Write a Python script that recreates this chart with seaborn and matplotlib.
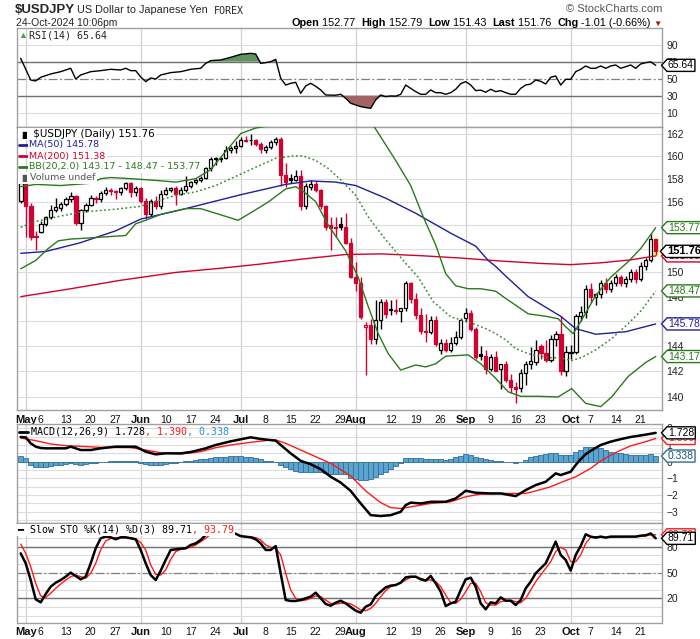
import matplotlib
matplotlib.use("Agg")
import matplotlib.pyplot as plt
import numpy as np
import pandas as pd
import seaborn as sns
from matplotlib.path import Path
from matplotlib.lines import Line2D
from matplotlib.ticker import NullLocator, NullFormatter
from matplotlib.offsetbox import TextArea, HPacker, AnnotationBbox

sns.set_style("white")
plt.rcParams["font.family"] = ["Liberation Sans", "DejaVu Sans"]

# ---------------- data ----------------
# forex trades every weekday, so the bars are the business days of the window
dates = pd.bdate_range("2024-04-30", "2024-10-24")

opens = [156.1, 157.6, 155.6, 153.1, 153.4, 154.1, 154.65, 155.3, 155.45, 155.8,
         156.2, 156.5, 154.2, 155.3, 155.7, 156.35, 156.2, 156.75, 157.0, 156.9,
         156.8, 157.2, 157.6, 156.8, 157.2, 156.1, 154.9, 156.1, 155.6, 156.7,
         157.05, 157.15, 156.7, 157.05, 157.4, 157.7, 157.85, 158.05, 158.95, 159.85,
         159.75, 159.85, 160.55, 160.7, 160.85, 161.45, 161.45, 161.4, 161.1, 160.5,
         160.8, 161.2, 161.5, 158.3, 158.1, 157.9, 158.25, 155.6, 157.3, 157.5,
         157.0, 155.6, 154.0, 153.8, 154.1, 153.8, 152.5, 149.6, 149.1, 145.5,
         145.7, 144.6, 146.1, 147.6, 147.0, 146.9, 146.8, 147.05, 149.1, 147.8,
         146.5, 145.25, 145.1, 146.1, 143.7, 144.25, 143.7, 144.25, 144.75, 146.3,
         146.7, 145.35, 143.4, 143.25, 142.2, 143.15, 142.15, 142.55, 141.35, 140.75,
         140.7, 141.9, 142.55, 142.7, 144.0, 143.45, 142.9, 144.6, 144.95, 142.05,
         143.45, 143.55, 146.4, 146.75, 148.6, 148.0, 148.2, 149.1, 148.6, 149.1,
         149.65, 149.1, 149.45, 150.0, 149.45, 150.55, 151.0, 152.77]
highs = [157.9, 157.9, 155.9, 153.5, 154.3, 154.8, 155.7, 156.3, 155.95, 156.4,
         156.8, 156.6, 155.4, 155.9, 156.6, 156.5, 156.9, 157.3, 157.2, 157.0,
         157.3, 157.7, 157.7, 157.4, 157.3, 156.3, 156.2, 156.5, 157.0, 157.3,
         157.3, 157.4, 157.3, 158.2, 157.8, 158.0, 158.2, 159.0, 159.9, 159.95,
         159.95, 160.9, 160.9, 161.3, 161.7, 161.75, 161.95, 161.5, 161.2, 161.0,
         161.4, 161.7, 161.7, 159.4, 158.4, 158.8, 158.8, 157.6, 157.9, 157.8,
         157.1, 155.7, 154.7, 154.7, 154.7, 155.0, 152.9, 150.9, 149.6, 145.9,
         146.2, 147.7, 147.8, 147.8, 147.7, 147.8, 147.1, 149.3, 149.2, 148.3,
         147.1, 146.6, 146.4, 146.4, 144.6, 144.6, 144.7, 145.2, 146.3, 147.1,
         146.9, 145.5, 144.0, 143.7, 143.4, 143.6, 142.6, 142.8, 141.8, 141.2,
         142.2, 142.8, 143.9, 144.5, 144.2, 144.5, 144.9, 145.2, 146.4, 144.0,
         144.1, 146.6, 147.2, 149.0, 149.1, 148.3, 149.4, 149.5, 149.4, 149.9,
         149.8, 149.7, 150.3, 150.3, 150.9, 151.2, 153.2, 152.79]
lows = [155.9, 153.0, 152.7, 151.85, 153.3, 153.9, 154.5, 155.1, 155.2, 155.6,
        156.0, 154.0, 153.6, 155.1, 155.6, 155.9, 156.0, 156.6, 156.6, 156.2,
        156.6, 157.0, 156.4, 156.5, 155.9, 154.5, 154.8, 155.4, 155.4, 156.6,
        156.8, 155.7, 156.6, 156.8, 157.2, 157.5, 157.7, 158.0, 158.7, 159.2,
        159.5, 159.7, 160.3, 160.3, 160.8, 161.2, 161.0, 160.9, 160.3, 160.3,
        160.6, 161.0, 157.4, 157.3, 157.6, 157.8, 155.3, 155.4, 157.0, 156.8,
        155.4, 153.6, 151.9, 153.0, 153.6, 152.4, 149.5, 148.5, 146.2, 141.7,
        144.2, 144.2, 145.4, 146.3, 146.5, 146.6, 145.9, 146.8, 147.5, 146.2,
        145.0, 144.3, 145.0, 144.0, 143.4, 143.5, 143.5, 144.1, 144.6, 145.9,
        145.2, 143.0, 142.9, 141.8, 142.0, 142.0, 140.6, 141.2, 140.3, 139.55,
        140.4, 140.9, 142.2, 142.5, 143.0, 142.7, 142.7, 144.0, 141.7, 141.65,
        143.0, 143.4, 146.0, 146.3, 147.5, 147.3, 147.9, 148.3, 148.4, 148.9,
        148.9, 148.8, 149.2, 149.1, 149.3, 150.2, 150.9, 151.43]
closes = [157.6, 155.6, 153.0, 152.95, 154.1, 154.65, 155.3, 155.5, 155.8, 156.2,
          156.5, 154.2, 155.3, 155.7, 156.3, 156.2, 156.75, 157.0, 156.9, 156.8,
          157.2, 157.6, 156.8, 157.2, 156.1, 154.9, 156.1, 155.6, 156.7, 157.05,
          157.15, 156.7, 157.05, 157.4, 157.7, 157.85, 158.05, 158.95, 159.7, 159.75,
          159.85, 160.55, 160.7, 160.85, 161.4, 161.35, 161.38, 161.1, 160.65, 160.8,
          161.2, 161.5, 158.3, 157.75, 157.9, 158.25, 155.6, 157.4, 157.5, 157.0,
          155.6, 153.8, 153.75, 153.7, 153.8, 152.5, 149.6, 149.1, 146.35, 145.7,
          144.6, 146.1, 147.6, 146.6, 146.9, 146.8, 147.05, 149.1, 147.8, 146.5,
          145.2, 145.1, 146.1, 144.2, 144.25, 143.7, 144.25, 144.75, 146.1, 146.7,
          145.35, 143.15, 143.25, 142.2, 143.15, 142.05, 142.55, 141.35, 140.75, 140.65,
          141.9, 142.55, 142.85, 143.7, 143.45, 142.9, 144.6, 144.95, 142.05, 143.5,
          143.55, 146.4, 146.75, 148.6, 148.0, 148.2, 149.1, 148.6, 149.1, 149.6,
          149.1, 149.45, 150.0, 149.45, 150.55, 151.0, 152.77, 151.76]

ma50_at = [0, 5, 12, 19, 24, 33, 44, 53, 58, 63, 67, 73, 79, 86, 91, 93.5, 95, 97,
           101.5, 108, 111, 115, 121, 127]
ma50 = [151.6, 151.75, 152.5, 153.5, 154.5, 155.4, 156.6, 157.5, 157.8, 157.7, 157.4,
        156.3, 155.0, 153.3, 152.2, 151.0, 150.5, 149.7, 148.0, 146.4, 145.4, 144.95,
        145.15, 145.78]
ma200_at = [0, 10, 20, 31, 40, 48, 56, 65, 72, 80, 88, 96, 104, 110, 116, 122, 127]
ma200 = [148.0, 148.65, 149.35, 150.0, 150.35, 150.7, 151.1, 151.5, 151.55, 151.4,
         151.2, 150.95, 150.75, 150.65, 150.8, 151.05, 151.38]
bb_up_at = [0, 3, 8, 14, 16, 18, 22, 27, 31, 35, 38, 41, 44, 47, 51, 55, 59, 63, 67,
            70, 71, 73, 75, 78, 80.5, 83, 85, 87, 89.5, 92, 95, 97, 99, 101.5, 105,
            107.5, 109, 110.5, 112.2, 115, 118, 121.5, 124, 127]
bb_up = [157.3, 157.5, 157.4, 157.6, 158.0, 158.1, 158.0, 157.85, 157.7, 158.0, 158.8,
         160.4, 162.0, 162.5, 162.8, 162.7, 163.5, 165.0, 165.5, 163.0, 162.4, 161.0,
         159.6, 157.4, 154.7, 152.3, 149.9, 148.9, 148.65, 148.65, 148.45, 147.85,
         147.3, 146.6, 146.4, 146.2, 145.55, 145.0, 146.1, 148.1, 149.6, 150.9, 152.0,
         153.77]
bb_mid_at = [0, 3, 5.5, 12, 19, 24, 27.5, 31, 35, 39, 43, 47, 51, 54.5, 56.5, 59,
             61.5, 64, 67, 69.5, 72.5, 76.5, 79.5, 82.5, 86, 89.5, 93, 95, 97, 99,
             101.5, 105, 108, 110.2, 112.2, 115, 118.2, 121.5, 124.2, 127]
bb_mid = [153.8, 154.3, 154.55, 155.1, 155.35, 155.6, 156.1, 156.55, 156.85, 157.4,
          158.2, 159.0, 159.8, 160.0, 160.0, 159.6, 158.9, 157.9, 156.55, 154.7,
          153.0, 151.0, 149.6, 147.6, 146.35, 145.95, 145.4, 145.0, 144.5, 143.8,
          143.4, 143.1, 143.05, 142.85, 143.1, 143.7, 144.6, 145.8, 146.9, 148.47]
bb_low_at = [0, 3, 5.5, 7.5, 10, 12, 21, 23, 25, 28, 33, 36, 39, 43.5, 47, 49.5, 53,
             55, 56.5, 59, 61.5, 65, 67.5, 69.5, 71.5, 73.5, 76, 79, 81, 83, 85, 89.5,
             92, 95, 97.5, 100, 103.5, 107.5, 110.2, 113, 116, 118.2, 121.5, 125, 127]
bb_low = [150.3, 151.0, 152.0, 152.65, 152.8, 152.85, 153.1, 154.1, 154.4, 154.9,
          155.4, 155.4, 155.0, 154.4, 155.3, 155.97, 157.1, 157.3, 156.9, 156.0,
          154.0, 151.8, 149.6, 147.2, 145.0, 143.4, 142.1, 142.5, 142.35, 142.6,
          143.2, 143.3, 142.6, 141.45, 140.4, 140.05, 140.05, 140.0, 140.65, 139.5,
          139.25, 140.0, 141.6, 142.7, 143.17]

rsi_at = [0, 2, 3, 4, 6, 8, 10, 11, 12, 14, 16, 18, 20, 21, 22, 23, 24, 25, 26, 27,
          28, 30, 32, 34, 36, 37, 38, 40, 42, 44, 46, 47, 48, 49, 50, 51, 52, 53, 54,
          55, 56, 57, 58, 59, 60, 61, 62, 63, 64, 65, 66, 68, 69, 70, 71, 72, 73, 74,
          75, 76, 77, 78, 79, 80, 81, 82, 83, 84, 85, 86, 87, 88, 89, 90, 91, 92, 93,
          94, 95, 96, 97, 98, 99, 100, 101, 102, 103, 104, 105, 106, 107, 108, 109,
          110, 111, 112, 113, 114, 115, 116, 117, 118, 119, 120, 121, 122, 123, 124,
          125, 126, 127]
rsi = [73.9, 48.4, 47.3, 51.6, 55.5, 58.2, 62.2, 49.6, 54.3, 58.2, 59.4, 61.0, 60.2,
       62.2, 59.4, 59.4, 52.0, 46.5, 50.8, 49.5, 54.3, 57.1, 58.2, 61.0, 62.2, 68.0,
       71.2, 72.0, 75.1, 78.6, 79.8, 79.0, 68.0, 68.8, 70.0, 72.7, 50.4, 42.5, 44.5,
       45.7, 32.7, 41.4, 44.5, 41.0, 36.7, 30.8, 30.6, 30.5, 31.6, 26.9, 21.0, 17.1,
       16.0, 15.1, 25.0, 30.8, 28.8, 29.6, 29.3, 31.6, 42.5, 38.6, 34.7, 31.6, 31.6,
       36.7, 33.5, 33.5, 31.6, 33.5, 37.5, 44.0, 46.5, 42.5, 35.9, 36.5, 34.0, 37.5,
       34.7, 35.9, 33.5, 31.6, 31.6, 38.6, 42.5, 43.7, 48.4, 46.9, 43.7, 51.6, 53.1,
       42.5, 49.2, 49.2, 58.2, 61.0, 64.9, 62.2, 62.2, 64.9, 62.2, 64.9, 66.1, 62.2,
       64.1, 66.1, 62.2, 67.3, 68.8, 69.8, 65.64]

macd_at = [0, 1, 2, 3, 4, 5, 9, 10, 12, 14, 16, 19, 23, 24, 25, 27, 29, 32, 34, 37,
           39, 42, 46, 48, 51, 52, 53, 54, 56, 58, 60, 62, 64, 66, 68, 70, 72, 74, 76,
           77, 78, 80, 82, 85, 87, 89, 91, 94, 96, 99, 101, 103, 105, 107, 108, 110,
           111, 112, 113, 114, 116, 118, 120, 122, 125, 127]
macd = [1.48, 1.46, 1.1, 0.9, 0.82, 0.8, 0.8, 0.9, 0.7, 0.7, 0.8, 0.9, 0.9, 0.75, 0.6,
        0.44, 0.5, 0.5, 0.58, 0.8, 1.0, 1.22, 1.46, 1.36, 1.26, 1.0, 0.75, 0.5, 0.05,
        -0.15, -0.45, -0.9, -1.25, -1.75, -2.5, -3.2, -3.25, -3.2, -3.0, -2.6, -2.45,
        -2.5, -2.4, -2.4, -2.2, -1.74, -1.86, -1.9, -1.9, -2.06, -1.7, -1.4, -1.2,
        -0.7, -0.8, -0.6, -0.2, 0.15, 0.45, 0.65, 1.0, 1.2, 1.35, 1.48, 1.62, 1.728]
signal_at = [0, 3, 6, 9, 16, 22, 25, 28, 32, 36, 39, 42, 46, 50, 51, 53, 56, 59, 62,
             66, 69, 72, 74, 76, 79, 82, 86, 89, 92, 96, 101, 103, 106, 108, 111, 114,
             116, 119, 122, 125, 127]
signal = [1.42, 1.26, 1.06, 0.96, 0.86, 0.84, 0.7, 0.54, 0.46, 0.6, 0.84, 1.0, 1.16,
          1.3, 1.3, 1.1, 0.7, 0.3, -0.1, -0.85, -1.75, -2.45, -2.75, -2.8, -2.65, -2.5,
          -2.4, -2.1, -1.94, -1.9, -1.9, -1.75, -1.5, -1.25, -0.9, -0.4, 0.05, 0.55,
          0.95, 1.2, 1.39]
hist = [0.34, 0.2, -0.2, -0.3, -0.34, -0.3, -0.26, -0.2, -0.2, -0.14,
        -0.1, -0.14, -0.18, -0.14, -0.1, -0.06, -0.02, 0.0, 0.02, 0.02,
        0.03, 0.04, 0.04, 0.02, -0.06, -0.14, -0.2, -0.22, -0.18, -0.14,
        -0.1, -0.06, -0.02, 0.02, 0.06, 0.1, 0.14, 0.18, 0.24, 0.26,
        0.3, 0.3, 0.32, 0.32, 0.32, 0.3, 0.26, 0.2, 0.14, 0.06,
        0.02, -0.02, -0.2, -0.34, -0.46, -0.54, -0.64, -0.64, -0.6, -0.6,
        -0.64, -0.7, -0.74, -0.74, -0.76, -0.76, -1.0, -1.06, -1.1, -1.1,
        -1.06, -0.94, -0.74, -0.6, -0.46, -0.26, -0.1, 0.2, 0.24, 0.24,
        0.2, 0.16, 0.16, 0.14, 0.14, 0.1, 0.16, 0.26, 0.36, 0.44,
        0.4, 0.26, 0.2, 0.14, 0.1, 0.06, 0.04, 0.0, -0.04, -0.06,
        0.0, 0.1, 0.26, 0.36, 0.4, 0.44, 0.54, 0.54, 0.4, 0.4,
        0.4, 0.56, 0.7, 0.86, 0.9, 0.9, 0.8, 0.7, 0.6, 0.54,
        0.5, 0.46, 0.4, 0.4, 0.4, 0.4, 0.44, 0.338]

sto_k = [72.3, 60.7, 41.3, 18.9, 15.4, 25.1, 33.6, 38.2, 41.3, 45.2,
         49.9, 46.0, 42.1, 45.2, 60.7, 78.1, 89.7, 91.7, 90.9, 88.6,
         90.9, 90.9, 89.7, 88.6, 76.2, 60.7, 47.1, 41.3, 52.2, 64.6,
         76.2, 77.0, 77.7, 78.1, 82.0, 83.9, 87.8, 93.6, 96.0, 97.0,
         96.0, 97.0, 97.0, 95.0, 92.3, 91.6, 90.9, 88.6, 83.9, 76.2,
         76.2, 80.7, 49.0, 18.1, 17.0, 17.0, 18.1, 20.0, 22.0, 26.6,
         20.0, 13.5, 11.5, 15.0, 17.3, 14.2, 10.0, 5.7, 3.4, 10.4,
         13.0, 22.8, 27.8, 32.8, 34.8, 35.5, 38.2, 44.4, 45.2, 45.2,
         42.1, 40.6, 46.0, 37.5, 27.8, 11.1, 14.2, 16.2, 29.7, 42.1,
         44.0, 33.6, 14.2, 7.3, 15.4, 14.2, 21.2, 17.3, 17.3, 12.3,
         18.1, 31.6, 39.4, 49.1, 54.9, 60.7, 73.1, 85.9, 70.4, 64.6,
         52.2, 70.4, 80.8, 94.4, 91.7, 90.5, 91.7, 90.5, 91.7, 91.7,
         91.7, 91.7, 91.7, 91.7, 92.8, 93.2, 95.4, 89.71]
sto_d = [83.1, 72.3, 56.8, 37.5, 22.8, 21.2, 25.9, 31.7, 36.7, 41.3,
         45.2, 47.1, 45.2, 43.3, 49.1, 60.7, 76.2, 86.6, 89.7, 90.5,
         90.5, 90.5, 90.5, 89.0, 84.7, 76.2, 58.8, 47.9, 47.1, 53.0,
         65.3, 74.3, 77.0, 78.1, 79.3, 82.0, 85.9, 89.7, 94.4, 96.0,
         96.5, 96.5, 96.5, 95.0, 92.0, 91.6, 91.6, 90.5, 87.8, 82.0,
         79.3, 78.1, 70.4, 49.1, 29.7, 20.0, 17.3, 18.1, 20.0, 22.8,
         22.0, 18.1, 14.2, 13.5, 14.2, 15.0, 13.5, 10.4, 6.5, 5.7,
         8.4, 14.2, 22.0, 29.0, 33.6, 35.5, 38.2, 41.3, 44.4, 45.2,
         43.3, 41.3, 41.3, 39.4, 33.6, 23.9, 15.0, 14.2, 18.9, 27.8,
         37.5, 37.5, 27.8, 15.0, 12.3, 12.3, 16.2, 17.3, 17.8, 16.2,
         15.0, 20.0, 29.7, 39.4, 47.1, 54.9, 62.6, 74.3, 79.3, 76.2,
         62.6, 62.6, 70.4, 83.9, 90.9, 91.6, 91.6, 91.0, 91.0, 91.3,
         91.6, 91.6, 91.7, 91.7, 92.0, 92.5, 93.8, 93.79]

month_days = ["2024-05-01", "2024-06-03", "2024-07-01", "2024-08-01", "2024-09-02", "2024-10-01"]
month_names = ["May", "Jun", "Jul", "Aug", "Sep", "Oct"]
monday_days = ["2024-05-06", "2024-05-13", "2024-05-20", "2024-05-27", "2024-06-10",
               "2024-06-17", "2024-06-24", "2024-07-08", "2024-07-15", "2024-07-22",
               "2024-07-29", "2024-08-12", "2024-08-19", "2024-08-26", "2024-09-09",
               "2024-09-16", "2024-09-23", "2024-10-07", "2024-10-14", "2024-10-21"]
monday_names = ["6", "13", "20", "27", "10", "17", "24", "8", "15", "22", "29",
                "12", "19", "26", "9", "16", "23", "7", "14", "21"]

# ---------------- figure ----------------
W, H = 700, 639
RED = "#d4002f"
GREEN = "#2a7a1c"
NAVY = "#1f1f9a"
LIGHT = "#dcdcdc"
DARK = "#707070"
MONO = "DejaVu Sans Mono"

fig = plt.figure(figsize=(W / 100, H / 100), dpi=100)
fig.patch.set_facecolor("white")


def panel(top, bottom):
    return fig.add_axes([17 / W, 1 - bottom / H, 645 / W, (bottom - top) / H])


ax_rsi = panel(28, 127)
ax_px = panel(127, 410)
ax_macd = panel(424, 522.5)
ax_sto = panel(523, 622.5)

x = np.arange(len(dates))
month_pos = [dates.get_loc(pd.Timestamp(d)) for d in month_days]
monday_pos = [dates.get_loc(pd.Timestamp(d)) for d in monday_days]

for ax in (ax_rsi, ax_px, ax_macd, ax_sto):
    ax.set_xlim(-0.74, 128.26)
    for s in ax.spines.values():
        s.set_color("#a0a0a0")
        s.set_linewidth(1)
    for v in month_pos:
        ax.axvline(v, color="#d0d0d0", lw=0.9, zorder=0)
    ax.yaxis.tick_right()
    ax.tick_params(axis="y", length=0, pad=3, labelsize=7.5, labelcolor="#222222")
    ax.set_xticks([])


def tag_shape(x0, y0, width, height, mutation_size):
    # value tag: a box with a small arrow pointing at the axis
    pad = mutation_size * 0.1
    x0, y0 = x0 - pad, y0 - pad
    x1, y1 = x0 + width + 2 * pad, y0 + height + 2 * pad
    tip = (y1 - y0) * 0.45
    verts = [(x0, y0), (x1, y0), (x1, y1), (x0, y1), (x0 - tip, (y0 + y1) / 2), (x0, y0)]
    return Path(verts, closed=True)


def tag(ax, value, text, edge, color=None, bold=False, size=7.5, dx=6):
    ax.annotate(text, xy=(1, value), xycoords=ax.get_yaxis_transform(),
                xytext=(dx, 0), textcoords="offset pixels", ha="left", va="center",
                fontsize=size, fontweight="bold" if bold else "normal",
                color=color or edge, annotation_clip=False, zorder=20,
                bbox=dict(boxstyle=tag_shape, fc="white", ec=edge, lw=1))


def date_axis(ax):
    pos = month_pos + monday_pos
    names = month_names + monday_names
    ax.set_xticks(pos, names)
    ax.set_xticks(x, minor=True)
    ax.tick_params(axis="x", which="both", length=2, color="#a0a0a0", pad=1.5,
                   labelsize=7.5, labelcolor="#111111")
    for lab in ax.get_xticklabels()[:len(month_pos)]:
        lab.set_fontweight("bold")
        lab.set_fontsize(8)


def fig_text_row(x_px, y_px, parts, family, size, ha="left", white=False):
    boxes = [TextArea(t, textprops=dict(color=c, fontsize=s or size, family=family,
                                        fontweight=w)) for t, c, w, s in parts]
    pack = HPacker(children=boxes, align="baseline", pad=0, sep=0)
    ab = AnnotationBbox(pack, (x_px / W, 1 - y_px / H), xycoords="figure fraction",
                        box_alignment=(0 if ha == "left" else 1, 0.5),
                        frameon=white, pad=0.1,
                        bboxprops=dict(fc="white", ec="none"))
    ab.set_zorder(15)
    fig.add_artist(ab)


# ---------------- RSI ----------------
rsi_arr = np.array(rsi)
ax_rsi.set_ylim(-6.9, 109.6)
for v in (10, 90):
    ax_rsi.axhline(v, color=LIGHT, lw=0.8, zorder=0)
for v in (30, 70):
    ax_rsi.axhline(v, color=DARK, lw=1, zorder=1)
ax_rsi.axhline(50, color="#808080", lw=0.9, ls=(0, (7, 2, 1.5, 2)), zorder=1)
ax_rsi.fill_between(rsi_at, rsi_arr, 70, where=rsi_arr >= 70, interpolate=True,
                    color="#5f925f", lw=0, zorder=2)
ax_rsi.fill_between(rsi_at, rsi_arr, 30, where=rsi_arr <= 30, interpolate=True,
                    color="#a36464", lw=0, zorder=2)
sns.lineplot(x=rsi_at, y=rsi, ax=ax_rsi, color="black", lw=1, estimator=None, zorder=3)
ax_rsi.set_yticks([10, 30, 50, 70, 90])
tag(ax_rsi, rsi[-1], f"{rsi[-1]:.2f}", "black")

# ---------------- price ----------------
ax_px.set_yscale("log")
ax_px.set_ylim(138.99, 162.59)
ax_px.yaxis.set_minor_locator(NullLocator())
ax_px.yaxis.set_minor_formatter(NullFormatter())
price_ticks = list(range(140, 163, 2))
ax_px.set_yticks(price_ticks, [str(t) for t in price_ticks])
for v in price_ticks:
    ax_px.axhline(v, color=LIGHT, lw=0.8, zorder=0)

o, h, l, c = map(np.array, (opens, highs, lows, closes))
prev = np.r_[o[0], c[:-1]]
gain = c >= prev
edge_cols = np.where(gain, "black", RED)
fill_cols = np.where(c >= o, "white", edge_cols)
ax_px.bar(x[-1], h[-1] - l[-1] + 0.3, bottom=l[-1] - 0.15, width=1.5,
          color="#ffff7a", zorder=1)
ax_px.vlines(x, l, h, colors=edge_cols, lw=1, zorder=3)
ax_px.bar(x, np.maximum(np.abs(c - o), 0.05), bottom=np.minimum(o, c), width=0.72,
          color=fill_cols, edgecolor=edge_cols, linewidth=0.9, zorder=4)

sns.lineplot(x=ma200_at, y=ma200, ax=ax_px, color=RED, lw=1, estimator=None, zorder=5)
sns.lineplot(x=ma50_at, y=ma50, ax=ax_px, color=NAVY, lw=1, estimator=None, zorder=5)
sns.lineplot(x=bb_up_at, y=bb_up, ax=ax_px, color=GREEN, lw=1, estimator=None, zorder=5)
sns.lineplot(x=bb_low_at, y=bb_low, ax=ax_px, color=GREEN, lw=1, estimator=None, zorder=5)
sns.lineplot(x=bb_mid_at, y=bb_mid, ax=ax_px, color="#3b8a35", lw=1.1, ls=(0, (1.2, 1.6)),
             estimator=None, zorder=5)
date_axis(ax_px)

tag(ax_px, bb_up[-1], f"{bb_up[-1]:.2f}", GREEN)
tag(ax_px, ma200[-1], f"{ma200[-1]:.2f}", RED)
tag(ax_px, closes[-1], f"{closes[-1]:.2f}", "black", bold=True, size=8, dx=5)
tag(ax_px, bb_mid[-1], f"{bb_mid[-1]:.2f}", GREEN)
tag(ax_px, ma50[-1], f"{ma50[-1]:.2f}", NAVY)
tag(ax_px, bb_low[-1], f"{bb_low[-1]:.2f}", GREEN)

# ---------------- MACD ----------------
ax_macd.set_ylim(-3.64, 2.257)
for v in np.arange(-3.5, 2.01, 0.5):
    ax_macd.axhline(v, color=LIGHT, lw=0.8, zorder=0)
ax_macd.bar(x, hist, width=1.0, color="#5aa4cf", edgecolor="#2f6f98", linewidth=0.6,
            zorder=2)
sns.lineplot(x=signal_at, y=signal, ax=ax_macd, color="#ff1a1a", lw=1, estimator=None,
             zorder=3)
sns.lineplot(x=macd_at, y=macd, ax=ax_macd, color="black", lw=1.8, estimator=None, zorder=4)
ax_macd.set_yticks([-3, -2, -1, 0, 1, 2])
tag(ax_macd, signal[-1], f"{signal[-1]:.3f}", "#ff1a1a")
tag(ax_macd, macd[-1], f"{macd[-1]:.3f}", "black")
tag(ax_macd, hist[-1], f"{hist[-1]:.3f}", "#2f6f98", color="#1d4f78")

# ---------------- Slow stochastic ----------------
ax_sto.set_ylim(-8, 107.5)
for v in range(0, 101, 10):
    ax_sto.axhline(v, color=LIGHT, lw=0.8, zorder=0)
for v in (20, 80):
    ax_sto.axhline(v, color=DARK, lw=1, zorder=1)
ax_sto.axhline(50, color="#808080", lw=0.9, ls=(0, (7, 2, 1.5, 2)), zorder=1)
sns.lineplot(x=x, y=sto_d, ax=ax_sto, color="#ff1a1a", lw=1, estimator=None, zorder=3)
sns.lineplot(x=x, y=sto_k, ax=ax_sto, color="black", lw=1.8, estimator=None, zorder=4)
ax_sto.set_yticks([20, 50, 80])
date_axis(ax_sto)
tag(ax_sto, sto_d[-1], f"{sto_d[-1]:.2f}", "#ff1a1a")
tag(ax_sto, sto_k[-1], f"{sto_k[-1]:.2f}", "black")

for ax in (ax_rsi, ax_px, ax_macd, ax_sto):
    ax.set_ylabel("")

# ---------------- header ----------------
fig.text(15 / W, 1 - 10 / H, "$USDJPY", fontsize=9.5, fontweight="bold", va="center")
fig.text(77 / W, 1 - 10 / H, "US Dollar to Japanese Yen", fontsize=7.8, va="center")
fig.text(214 / W, 1 - 10.5 / H, "FOREX", family=MONO, fontsize=7.2, va="center")
fig.text(16 / W, 1 - 23 / H, "24-Oct-2024 10:06pm", fontsize=7.5, va="center")
fig.text(662 / W, 1 - 9.3 / H, "\u00a9 StockCharts.com", fontsize=8, color="#555555",
         ha="right", va="center")

chg = closes[-1] - closes[-2]
pct = chg / closes[-2] * 100
fig_text_row(662, 22.7, [
    ("Open", "black", "bold", None), (f" {opens[-1]:.2f}  ", "black", "normal", None),
    ("High", "black", "bold", None), (f" {highs[-1]:.2f}  ", "black", "normal", None),
    ("Low", "black", "bold", None), (f" {lows[-1]:.2f}  ", "black", "normal", None),
    ("Last", "black", "bold", None), (f" {closes[-1]:.2f}  ", "black", "normal", None),
    ("Chg", "black", "bold", None), (f" {chg:.2f} ({pct:.2f}%) ", "black", "normal", None),
    ("\u25bc", "#a01818", "normal", 6)], "Liberation Sans", 7.8, ha="right")

# ---------------- panel legends ----------------
fig.text(18 / W, 1 - 35 / H, "\u25b2", fontsize=6.5, color="#5f925f", va="center")
fig.text(29 / W, 1 - 35 / H, f"RSI(14) {rsi[-1]:.2f}", family=MONO, fontsize=7.2,
         va="center")

fig_text_row(19, 134, [("\u2590\u258c", "black", "normal", 5),
                       (f" $USDJPY (Daily) {closes[-1]:.2f}", "black", "normal", None)],
             "DejaVu Sans", 7.5, white=True)
legend_rows = [(145, f"MA(50) {ma50[-1]:.2f}", NAVY),
               (156, f"MA(200) {ma200[-1]:.2f}", RED),
               (167, f"BB(20,2.0) {bb_low[-1]:.2f} - {bb_mid[-1]:.2f} - {bb_up[-1]:.2f}", GREEN)]
for y_px, text, col in legend_rows:
    fig.add_artist(Line2D([19 / W, 28 / W], [1 - y_px / H] * 2, color=col, lw=2))
    fig_text_row(29, y_px, [(text, col, "normal", None)], "DejaVu Sans", 6.8, white=True)
fig_text_row(19, 178, [("\u2590\u258c", "#555555", "normal", 5),
                       ("Volume undef", "#555555", "normal", None)],
             "DejaVu Sans", 6.8, white=True)

fig.add_artist(Line2D([19 / W, 28 / W], [1 - 431.7 / H] * 2, color="black", lw=2))
fig_text_row(31, 431.7, [(f"MACD(12,26,9) {macd[-1]:.3f}", "black", "normal", None),
                         (f", {signal[-1]:.3f}", "#ff1a1a", "normal", None),
                         (f", {hist[-1]:.3f}", "#2f8fcf", "normal", None)], MONO, 7.2)

fig_text_row(17.5, 530, [("\u2501 ", "black", "normal", None),
                         (f"Slow STO %K(14) %D(3) {sto_k[-1]:.2f}", "black", "normal", None),
                         (f", {sto_d[-1]:.2f}", "#ff1a1a", "normal", None)], MONO, 7.2,
             white=True)

fig.savefig("out.png", dpi=100, facecolor="white")
